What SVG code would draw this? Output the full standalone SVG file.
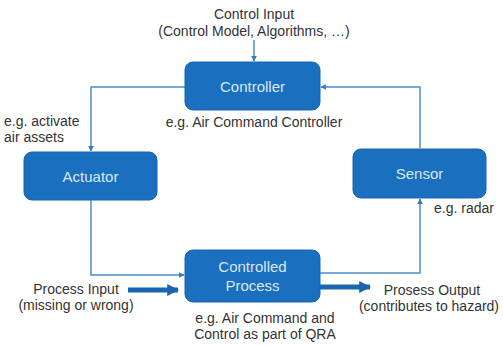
<svg xmlns="http://www.w3.org/2000/svg" width="503" height="346" viewBox="0 0 503 346">
<style>
.box{fill:#1b6fbf;stroke:#1766b3;stroke-width:1}
.bt{font-family:"Liberation Sans",Arial,sans-serif;font-size:15px;fill:#d9e8f6;text-anchor:middle}
.t{font-family:"Liberation Sans",Arial,sans-serif;font-size:14px;fill:#333}
.c{text-anchor:middle}
.ln{fill:none;stroke:#4a8fca;stroke-width:1.5}
.thick{fill:none;stroke:#1c64b0;stroke-width:5}
</style>
<defs>
<marker id="a" viewBox="0 0 10 10" refX="9" refY="5" markerWidth="6" markerHeight="6" markerUnits="userSpaceOnUse" orient="auto"><path d="M0,0 L10,5 L0,10 z" fill="#2f7cc0"/></marker>
<marker id="b" viewBox="0 0 10 10" refX="9" refY="5" markerWidth="12" markerHeight="12" markerUnits="userSpaceOnUse" orient="auto"><path d="M0,0 L10,5 L0,10 z" fill="#1c64b0"/></marker>
</defs>
<g id="connectors">
<path class="ln" d="M254,40 V61" marker-end="url(#a)"/>
<path class="ln" d="M185,87 H91 V151" marker-end="url(#a)"/>
<path class="ln" d="M91,200 V275 H184" marker-end="url(#a)"/>
<path class="ln" d="M320,273 H420 V199" marker-end="url(#a)"/>
<path class="ln" d="M420,148 V87 H321" marker-end="url(#a)"/>
<path class="thick" d="M128,290 H178" marker-end="url(#b)"/>
<path class="thick" d="M320,287 H370" marker-end="url(#b)"/>
</g>
<g id="controller">
<rect class="box" x="185" y="62" width="135" height="48" rx="8"/>
<text class="bt" x="252.5" y="92">Controller</text>
</g>
<g id="actuator">
<rect class="box" x="24" y="152" width="133" height="48" rx="8"/>
<text class="bt" x="90.5" y="182">Actuator</text>
</g>
<g id="sensor">
<rect class="box" x="353" y="149" width="133" height="49" rx="8"/>
<text class="bt" x="419.5" y="179">Sensor</text>
</g>
<g id="process">
<rect class="box" x="185" y="250" width="135" height="52" rx="8"/>
<text class="bt" x="252.5" y="272">Controlled</text>
<text class="bt" x="252.5" y="291">Process</text>
</g>
<g id="labels">
<text class="t c" x="254" y="19">Control Input</text>
<text class="t c" x="254" y="36">(Control Model, Algorithms, …)</text>
<text class="t c" x="254" y="127">e.g. Air Command Controller</text>
<text class="t" x="4" y="126">e.g. activate</text>
<text class="t" x="4" y="142">air assets</text>
<text class="t" x="434" y="213">e.g. radar</text>
<text class="t c" x="76" y="294">Process Input</text>
<text class="t c" x="76" y="310">(missing or wrong)</text>
<text class="t c" x="265" y="323">e.g. Air Command and</text>
<text class="t c" x="265" y="339">Control as part of QRA</text>
<text class="t c" x="432" y="295">Prosess Output</text>
<text class="t c" x="429" y="311">(contributes to hazard)</text>
</g>
</svg>
